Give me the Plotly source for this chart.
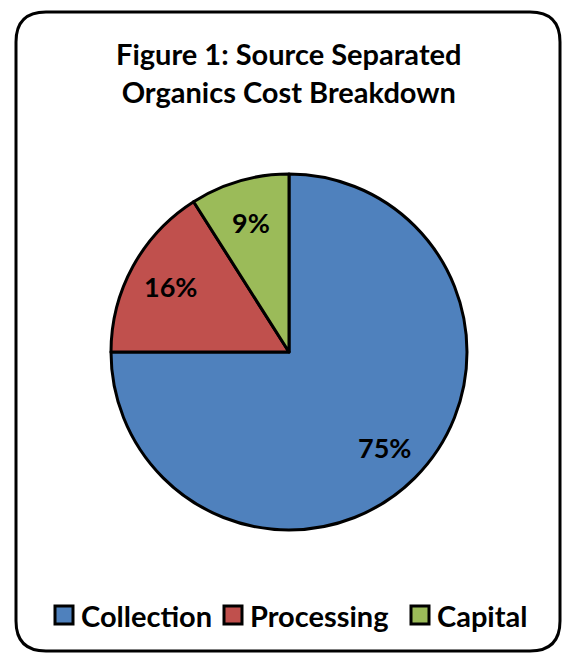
import math
import plotly.graph_objects as go

categories = ["Collection", "Processing", "Capital"]
values = [75, 16, 9]
colors = ["#4F81BD", "#C0504D", "#9BBB59"]
title_text = "Figure 1: Source Separated<br>Organics Cost Breakdown"

W, H = 564, 654
FONT = "Lato"

def px(x):
    return x / W

def py(y):
    return 1 - y / H

# pie geometry (pixels)
CX, CY, R = 289, 352, 178

fig = go.Figure()
fig.add_trace(go.Pie(
    labels=categories,
    values=values,
    sort=False,
    direction="clockwise",
    rotation=0,
    marker=dict(colors=colors, line=dict(color="black", width=3)),
    textinfo="none",
    domain=dict(x=[px(CX - R), px(CX + R)], y=[py(CY + R), py(CY - R)]),
    showlegend=False,
    hoverinfo="label+percent",
))

# rounded border
x0, y0, x1, y1, r = 16, 12, 560, 651, 30
path = (f"M {px(x0 + r)} {py(y0)} L {px(x1 - r)} {py(y0)} "
        f"Q {px(x1)} {py(y0)} {px(x1)} {py(y0 + r)} "
        f"L {px(x1)} {py(y1 - r)} Q {px(x1)} {py(y1)} {px(x1 - r)} {py(y1)} "
        f"L {px(x0 + r)} {py(y1)} Q {px(x0)} {py(y1)} {px(x0)} {py(y1 - r)} "
        f"L {px(x0)} {py(y0 + r)} Q {px(x0)} {py(y0)} {px(x0 + r)} {py(y0)} Z")
shapes = [dict(type="path", xref="paper", yref="paper", path=path,
               line=dict(color="black", width=3))]

annotations = [dict(
    text=f"<b>{title_text}</b>", x=px(289), y=py(72), xref="paper", yref="paper",
    showarrow=False, xanchor="center", yanchor="middle",
    font=dict(family=FONT, size=29, color="black"),
)]

# data labels placed at the slice mid-angle (Excel-style, ~0.76 R)
total = sum(values)
start = 0.0
for v in values:
    frac = v / total
    mid = (start + frac / 2) * 2 * math.pi  # clockwise from 12 o'clock
    lx = CX + 0.76 * R * math.sin(mid)
    ly_ = CY - 0.76 * R * math.cos(mid)
    annotations.append(dict(
        text=f"<b>{round(frac * 100)}%</b>", x=px(lx), y=py(ly_),
        xref="paper", yref="paper", showarrow=False,
        xanchor="center", yanchor="middle",
        font=dict(family=FONT, size=27, color="black")))
    start += frac

# legend (manual, square swatches)
legend_sq_x = [55, 224, 411]
sq = 18
ly = 615
for cat, col, sx in zip(categories, colors, legend_sq_x):
    shapes.append(dict(type="rect", xref="paper", yref="paper",
                       x0=px(sx), x1=px(sx + sq), y0=py(ly + sq / 2), y1=py(ly - sq / 2),
                       fillcolor=col, line=dict(color="black", width=3)))
    annotations.append(dict(text=f"<b>{cat}</b>", x=px(sx + sq + 6), y=py(ly),
                            xref="paper", yref="paper", showarrow=False,
                            xanchor="left", yanchor="middle",
                            font=dict(family=FONT, size=29, color="black")))

fig.update_layout(
    width=W, height=H,
    margin=dict(l=0, r=0, t=0, b=0),
    paper_bgcolor="white",
    plot_bgcolor="white",
    shapes=shapes,
    annotations=annotations,
)

fig.write_html("out.html")
